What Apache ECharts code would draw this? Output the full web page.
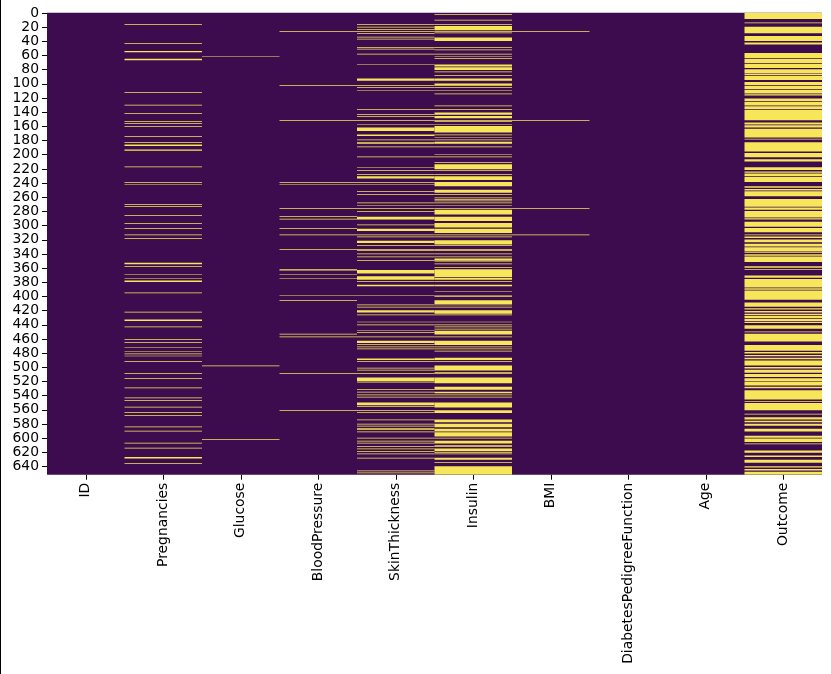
<!DOCTYPE html>
<html><head><meta charset="utf-8">
<script src="https://cdn.jsdelivr.net/npm/echarts@6/dist/echarts.min.js"></script>
<style>html,body{margin:0;padding:0;background:#fff}#c{width:831px;height:674px}</style>
</head><body><div id="c"></div>
<script>
// Columns of the data frame (x categories)
const columns = ['ID','Pregnancies','Glucose','BloodPressure','SkinThickness','Insulin','BMI','DiabetesPedigreeFunction','Age','Outcome'];
// Number of rows (y categories) and tick label step
const rowCount = 652;
const rowLabelStep = 20;

// Runs of rows [start, end] where the cell value is 1 (yellow), per column
const idRuns = [];
const pregnanciesRuns = [[16,16],[43,43],[54,55],[65,66],[112,112],[130,130],[142,142],[153,153],[156,156],[160,160],[174,174],[183,183],[186,187],[193,194],[217,217],[239,239],[242,242],[270,270],[273,273],[286,286],[297,297],[304,304],[313,313],[318,318],[353,354],[358,358],[369,369],[375,375],[378,379],[395,395],[422,422],[433,434],[443,443],[461,461],[465,465],[472,472],[478,478],[481,481],[484,484],[492,492],[509,509],[516,516],[529,529],[543,543],[547,547],[556,556],[564,564],[568,568],[584,584],[590,590],[607,607],[614,614],[627,628],[636,636]];
const glucoseRuns = [[61,61],[498,498],[602,602]];
const bloodPressureRuns = [[26,26],[102,102],[152,152],[239,239],[242,242],[276,276],[287,287],[291,291],[304,304],[313,313],[334,334],[362,363],[369,369],[375,375],[399,399],[406,406],[453,453],[457,457],[509,509],[561,561]];
const skinThicknessRuns = [[16,16],[20,20],[23,23],[26,26],[29,29],[34,34],[37,37],[49,49],[51,51],[58,58],[73,73],[93,95],[102,102],[105,105],[109,109],[136,136],[143,143],[146,146],[152,152],[157,157],[162,166],[172,173],[179,179],[183,184],[189,189],[203,203],[218,218],[222,222],[228,228],[231,233],[239,239],[242,242],[252,252],[256,256],[268,268],[272,272],[276,276],[280,280],[288,291],[299,299],[305,307],[313,313],[316,316],[322,324],[328,328],[334,335],[340,340],[344,344],[349,349],[363,367],[372,376],[379,379],[384,385],[399,399],[412,412],[415,415],[420,422],[426,426],[436,436],[440,440],[448,448],[451,451],[457,457],[463,465],[468,468],[471,471],[474,474],[488,489],[492,492],[501,501],[504,504],[509,509],[515,519],[521,521],[531,531],[535,535],[539,539],[542,542],[550,553],[555,555],[561,561],[564,564],[574,574],[580,580],[583,583],[586,586],[588,588],[591,591],[600,600],[604,604],[607,607],[612,612],[615,615],[619,619],[622,622],[628,628],[646,646],[649,649]];
const insulinRuns = [[2,2],[10,10],[16,16],[19,24],[26,26],[28,28],[35,39],[49,49],[52,52],[58,58],[61,61],[64,64],[73,75],[77,80],[83,83],[88,88],[93,95],[100,102],[105,105],[109,109],[114,114],[131,131],[136,136],[141,143],[146,148],[152,153],[157,157],[160,168],[172,172],[176,176],[179,179],[182,184],[189,189],[200,200],[203,203],[211,211],[214,220],[222,222],[228,228],[231,235],[239,244],[250,253],[256,256],[261,261],[263,263],[265,265],[268,268],[272,272],[276,276],[278,284],[288,293],[297,302],[305,310],[313,313],[316,316],[321,326],[328,328],[334,335],[340,340],[344,344],[347,349],[351,351],[354,354],[359,359],[362,372],[374,376],[379,379],[384,385],[393,393],[399,400],[406,410],[412,412],[415,415],[420,424],[426,426],[436,436],[440,440],[443,443],[446,446],[449,453],[457,457],[463,468],[471,471],[474,474],[477,477],[487,489],[492,492],[498,504],[507,507],[509,509],[515,522],[528,531],[535,536],[539,539],[542,542],[550,556],[561,564],[574,577],[580,584],[587,590],[592,597],[600,600],[604,607],[610,610],[612,612],[615,618],[620,620],[622,622],[628,630],[634,634],[640,651]];
const bmiRuns = [[26,26],[152,152],[276,276],[313,313]];
const pedigreeRuns = [];
const ageRuns = [];
const outcomeRuns = [[0,8],[14,14],[20,28],[33,39],[42,44],[57,63],[65,70],[72,77],[80,84],[86,87],[89,94],[98,101],[103,107],[109,113],[115,116],[121,124],[126,130],[132,135],[137,151],[155,157],[159,161],[164,175],[178,178],[183,195],[198,203],[207,209],[218,221],[224,225],[227,230],[232,238],[245,246],[249,250],[252,258],[263,273],[275,277],[280,288],[290,291],[295,301],[304,309],[313,313],[316,317],[320,323],[326,329],[331,336],[338,338],[341,342],[344,351],[358,359],[362,362],[371,373],[376,387],[389,390],[392,404],[409,414],[417,418],[421,422],[425,426],[428,430],[432,434],[436,437],[441,445],[450,450],[453,463],[469,476],[479,480],[483,484],[487,488],[491,497],[500,501],[504,507],[510,513],[516,519],[521,525],[528,529],[533,545],[548,548],[551,560],[566,566],[571,573],[576,577],[580,582],[587,590],[597,599],[601,605],[608,608],[618,620],[625,626],[631,634],[640,641],[644,645],[648,651]];

const columnRuns = [idRuns, pregnanciesRuns, glucoseRuns, bloodPressureRuns, skinThicknessRuns, insulinRuns, bmiRuns, pedigreeRuns, ageRuns, outcomeRuns];

const COLOR_ZERO = '#3d0c4f';
const COLOR_ONE = '#f7e65a';

const rowLabels = Array.from({length: rowCount}, (_, i) => String(i));
const data = [];
columnRuns.forEach((runs, ci) => runs.forEach(r => data.push([ci, r[0], r[1]])));

function renderItem(params, api) {
  const c = api.value(0), s = api.value(1), e = api.value(2);
  const p0 = api.coord([c, s]);
  const p1 = api.coord([c, e]);
  const sz = api.size([1, 1]);
  const top = Math.min(p0[1], p1[1]) - sz[1] / 2;
  const bot = Math.max(p0[1], p1[1]) + sz[1] / 2;
  return {
    type: 'rect',
    shape: { x: p0[0] - sz[0] / 2, y: top, width: sz[0], height: bot - top },
    style: { fill: COLOR_ONE }
  };
}

const chart = echarts.init(document.getElementById('c'), null, {renderer: 'canvas'});
const font = 'DejaVu Sans';
chart.setOption({
  animation: false,
  backgroundColor: '#ffffff',
  graphic: [{ type: 'rect', left: 0, top: 0, shape: { width: 1, height: 674 }, style: { fill: '#000' } }],
  grid: { left: 47, right: 9, top: 12.65, bottom: 199.3, show: true, backgroundColor: COLOR_ZERO, borderWidth: 0 },
  xAxis: {
    type: 'category', data: columns, position: 'bottom',
    axisLine: { show: false },
    axisTick: { show: true, length: 5, alignWithLabel: true, lineStyle: { color: '#000', width: 1 } },
    axisLabel: { rotate: 90, margin: 8, fontSize: 13.9, color: '#000', fontFamily: font, interval: 0 },
    splitLine: { show: false }
  },
  yAxis: {
    type: 'category', data: rowLabels, inverse: true,
    axisLine: { show: false },
    axisTick: { show: true, length: 5, alignWithLabel: true, interval: rowLabelStep - 1, lineStyle: { color: '#000', width: 1 } },
    axisLabel: { interval: rowLabelStep - 1, margin: 8, fontSize: 13.9, color: '#000', fontFamily: font },
    splitLine: { show: false }
  },
  series: [{
    type: 'custom',
    renderItem: renderItem,
    encode: { x: 0, y: [1, 2] },
    data: data,
    clip: true
  }]
});
</script>
</body></html>
